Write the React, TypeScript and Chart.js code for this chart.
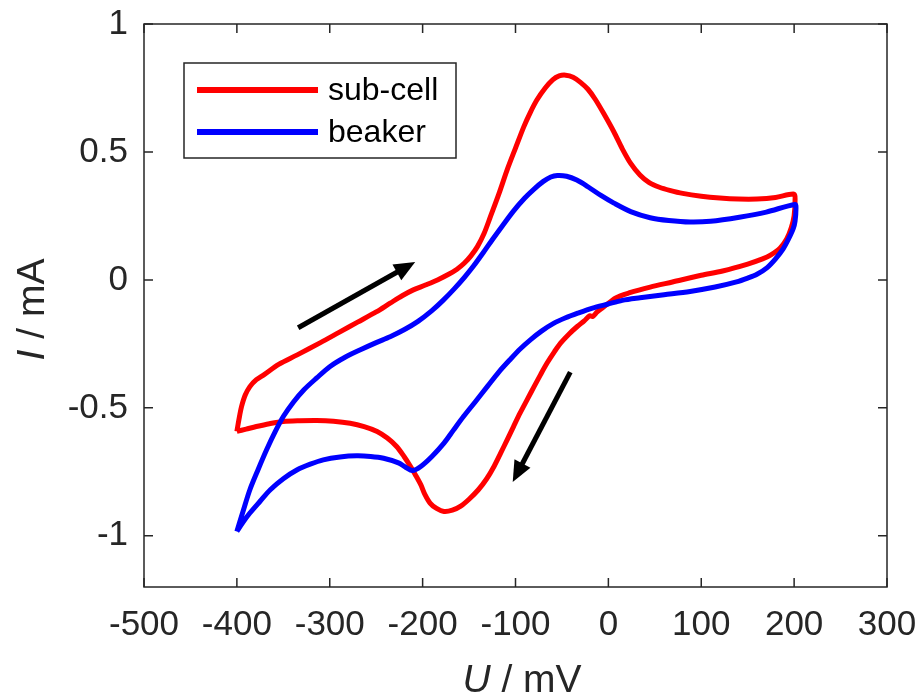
import React, { useEffect, useRef } from 'react';
import { Chart, registerables } from 'chart.js';

Chart.register(...registerables);

// ---- data ----
const subCellU = [
  -400, -397, -395, -391, -386, -379, -371, -355, -335, -310, -290, -270, -250, -235, -222, -210, -197, -184, -172, -163, -155, -148, -141, -134, -127, -118, -109, -100, -91, -84, -77, -68, -60, -53, -46, -38, -30, -22, -14, -5, 6, 15, 24, 34, 44, 55, 66, 80, 100, 120, 140, 160, 180, 200,
  201, 200, 197, 192, 185, 175, 166, 150, 123, 100, 69, 45, 23, 8, -6.5, -12, -17, -20, -26, -33.5, -42, -51.5, -58, -66, -73, -80, -87, -95, -102, -109, -116, -123, -131, -140, -150, -159, -168, -177, -185, -192, -198, -202, -208, -213, -220, -228, -238, -249, -263, -278, -296, -314, -332, -350, -365, -379, -390, -400,
];
const subCellI = [
  -0.592, -0.53, -0.495, -0.45, -0.417, -0.39, -0.371, -0.33, -0.293, -0.245, -0.205, -0.165, -0.125, -0.091, -0.062, -0.039, -0.02, 0.0, 0.022, 0.042, 0.066, 0.094, 0.13, 0.18, 0.247, 0.335, 0.43, 0.515, 0.599, 0.655, 0.703, 0.75, 0.782, 0.797, 0.8, 0.792, 0.772, 0.745, 0.705, 0.65, 0.578, 0.512, 0.455, 0.41, 0.38, 0.362, 0.35, 0.338, 0.327, 0.32, 0.316, 0.316, 0.322, 0.335,
  0.31, 0.25, 0.205, 0.16, 0.125, 0.098, 0.082, 0.062, 0.035, 0.018, -0.008, -0.028, -0.05, -0.07, -0.11, -0.125, -0.143, -0.14, -0.16, -0.182, -0.21, -0.247, -0.28, -0.325, -0.37, -0.417, -0.465, -0.52, -0.572, -0.625, -0.677, -0.728, -0.777, -0.82, -0.857, -0.884, -0.9, -0.905, -0.893, -0.872, -0.835, -0.8, -0.76, -0.729, -0.69, -0.651, -0.618, -0.592, -0.573, -0.56, -0.552, -0.549, -0.55, -0.553, -0.562, -0.573, -0.583, -0.592,
];

const beakerU = [
  -400, -393, -386, -377, -368, -359, -350, -339, -328, -314, -300, -284, -267, -250, -235, -220, -205, -190, -178, -166, -155, -145, -135, -125, -114, -102, -90, -80, -70, -62, -55, -45, -34, -22, -8, 6, 24, 45, 65, 88, 110, 141, 170, 201,
  202, 201, 199, 194, 188, 180, 171, 160, 150, 138, 115, 88, 60, 34, 15, -1, -17, -33, -46, -59, -72, -84, -95, -105, -118, -130, -143, -156, -167, -177, -190, -202, -211, -218, -226, -242, -256, -271, -289, -307, -321, -335, -350, -364, -375, -386, -394, -400,
];
const beakerI = [
  -0.983, -0.9, -0.82, -0.74, -0.664, -0.595, -0.534, -0.477, -0.43, -0.383, -0.339, -0.303, -0.273, -0.245, -0.222, -0.195, -0.162, -0.12, -0.08, -0.035, 0.01, 0.055, 0.105, 0.157, 0.212, 0.27, 0.32, 0.355, 0.385, 0.402, 0.408, 0.405, 0.39, 0.364, 0.33, 0.3, 0.267, 0.243, 0.232, 0.226, 0.229, 0.245, 0.265, 0.295,
  0.28, 0.23, 0.2, 0.16, 0.12, 0.082, 0.048, 0.022, 0.007, -0.008, -0.028, -0.045, -0.058, -0.07, -0.08, -0.095, -0.11, -0.13, -0.148, -0.17, -0.2, -0.234, -0.27, -0.308, -0.36, -0.415, -0.475, -0.534, -0.588, -0.638, -0.69, -0.729, -0.745, -0.733, -0.715, -0.697, -0.69, -0.6875, -0.692, -0.703, -0.72, -0.742, -0.777, -0.82, -0.865, -0.911, -0.95, -0.983,
];

const xTicks = [-500, -400, -300, -200, -100, 0, 100, 200, 300];
const yTicks = [-1, -0.5, 0, 0.5, 1];

const seriesNames = ['sub-cell', 'beaker'];
const seriesColors = ['#ff0000', '#0000ff'];

// scan-direction arrows (data coordinates)
const arrowTailU = [-334, -41];
const arrowTailI = [-0.187, -0.36];
const arrowTipU = [-208, -103];
const arrowTipI = [0.07, -0.79];

const AXIS_COLOR = '#262626';
const FONT = "'Liberation Sans', Arial, sans-serif";

const toPoints = (xs: number[], ys: number[]) => xs.map((x, i) => ({ x, y: ys[i] }));

const decorPlugin = {
  id: 'decor',
  afterDatasetsDraw(chart: any) {
    const { ctx, chartArea } = chart;
    const xs = chart.scales.x;
    const ys = chart.scales.y;
    const { left, right, top, bottom } = chartArea;
    ctx.save();

    // arrows
    ctx.fillStyle = '#000';
    ctx.strokeStyle = '#000';
    for (let i = 0; i < arrowTailU.length; i++) {
      const x0 = xs.getPixelForValue(arrowTailU[i]);
      const y0 = ys.getPixelForValue(arrowTailI[i]);
      const x1 = xs.getPixelForValue(arrowTipU[i]);
      const y1 = ys.getPixelForValue(arrowTipI[i]);
      const ang = Math.atan2(y1 - y0, x1 - x0);
      const headLen = 21;
      const headHalf = 9;
      const bx = x1 - headLen * Math.cos(ang);
      const by = y1 - headLen * Math.sin(ang);
      ctx.lineWidth = 5;
      ctx.lineCap = 'butt';
      ctx.beginPath();
      ctx.moveTo(x0, y0);
      ctx.lineTo(bx + 2 * Math.cos(ang), by + 2 * Math.sin(ang));
      ctx.stroke();
      ctx.beginPath();
      ctx.moveTo(x1, y1);
      ctx.lineTo(bx + headHalf * Math.sin(ang), by - headHalf * Math.cos(ang));
      ctx.lineTo(bx - headHalf * Math.sin(ang), by + headHalf * Math.cos(ang));
      ctx.closePath();
      ctx.fill();
    }

    // box
    ctx.strokeStyle = AXIS_COLOR;
    ctx.lineWidth = 1.5;
    ctx.strokeRect(left, top, right - left, bottom - top);

    // inward ticks on all sides
    const tl = 9;
    ctx.beginPath();
    xTicks.forEach((v) => {
      const px = xs.getPixelForValue(v);
      ctx.moveTo(px, bottom);
      ctx.lineTo(px, bottom - tl);
      ctx.moveTo(px, top);
      ctx.lineTo(px, top + tl);
    });
    yTicks.forEach((v) => {
      const py = ys.getPixelForValue(v);
      ctx.moveTo(left, py);
      ctx.lineTo(left + tl, py);
      ctx.moveTo(right, py);
      ctx.lineTo(right - tl, py);
    });
    ctx.stroke();

    // legend
    const lx = left + 40;
    const ly = top + 39;
    const lw = 272;
    const lh = 95;
    ctx.fillStyle = '#fff';
    ctx.fillRect(lx, ly, lw, lh);
    ctx.strokeStyle = AXIS_COLOR;
    ctx.lineWidth = 1.5;
    ctx.strokeRect(lx, ly, lw, lh);
    ctx.font = `32px ${FONT}`;
    ctx.textBaseline = 'middle';
    ctx.textAlign = 'left';
    seriesNames.forEach((name, i) => {
      const yy = ly + 27 + i * 42;
      ctx.strokeStyle = seriesColors[i];
      ctx.lineWidth = 6;
      ctx.beginPath();
      ctx.moveTo(lx + 13, yy);
      ctx.lineTo(lx + 134, yy);
      ctx.stroke();
      ctx.fillStyle = '#000';
      ctx.fillText(name, lx + 144, yy + 1);
    });

    // axis titles
    ctx.fillStyle = AXIS_COLOR;
    ctx.textBaseline = 'alphabetic';
    const TITLE_SIZE = 39;
    const drawMixed = (parts: { t: string; italic: boolean }[], cx: number, cy: number) => {
      const widths = parts.map((p) => {
        ctx.font = `${p.italic ? 'italic ' : ''}${TITLE_SIZE}px ${FONT}`;
        return ctx.measureText(p.t).width;
      });
      const total = widths.reduce((a, b) => a + b, 0);
      let x = cx - total / 2;
      parts.forEach((p, i) => {
        ctx.font = `${p.italic ? 'italic ' : ''}${TITLE_SIZE}px ${FONT}`;
        ctx.textAlign = 'left';
        ctx.fillText(p.t, x, cy);
        x += widths[i];
      });
    };
    drawMixed(
      [
        { t: 'U', italic: true },
        { t: ' / mV', italic: false },
      ],
      522,
      692
    );
    ctx.save();
    ctx.translate(44, (top + bottom) / 2 + 4);
    ctx.rotate(-Math.PI / 2);
    drawMixed(
      [
        { t: 'I', italic: true },
        { t: ' / mA', italic: false },
      ],
      0,
      0
    );
    ctx.restore();

    ctx.restore();
  },
};

export default function App() {
  const ref = useRef<HTMLCanvasElement>(null);
  useEffect(() => {
    if (!ref.current) return;
    Chart.defaults.font.family = FONT;
    const chart = new Chart(ref.current, {
      type: 'scatter',
      data: {
        datasets: [
          {
            label: seriesNames[0],
            data: toPoints(subCellU, subCellI),
            showLine: true,
            borderColor: seriesColors[0],
            backgroundColor: seriesColors[0],
            borderWidth: 5,
            pointRadius: 0,
            tension: 0.3,
            order: 2,
          },
          {
            label: seriesNames[1],
            data: toPoints(beakerU, beakerI),
            showLine: true,
            borderColor: seriesColors[1],
            backgroundColor: seriesColors[1],
            borderWidth: 5,
            pointRadius: 0,
            tension: 0.3,
            order: 1,
          },
        ],
      },
      options: {
        responsive: false,
        animation: false,
        events: [],
        layout: { padding: { left: 0, top: 24, right: 33, bottom: 0 } },
        plugins: { legend: { display: false }, tooltip: { enabled: false } },
        scales: {
          x: {
            type: 'linear',
            min: -500,
            max: 300,
            grid: { display: false, drawTicks: false },
            border: { display: false },
            afterBuildTicks: (s: any) => {
              s.ticks = xTicks.map((v) => ({ value: v }));
            },
            afterFit: (s: any) => {
              s.height = 107;
              s.paddingLeft = 0;
              s.paddingRight = 0;
            },
            ticks: {
              color: AXIS_COLOR,
              font: { size: 35, family: FONT },
              padding: 17,
              maxRotation: 0,
              autoSkip: false,
              callback: (v: any) => String(v),
            },
          },
          y: {
            type: 'linear',
            min: -1.2,
            max: 1,
            grid: { display: false, drawTicks: false },
            border: { display: false },
            afterBuildTicks: (s: any) => {
              s.ticks = yTicks.map((v) => ({ value: v }));
            },
            afterFit: (s: any) => {
              s.width = 144;
              s.paddingTop = 0;
              s.paddingBottom = 0;
            },
            ticks: {
              color: AXIS_COLOR,
              font: { size: 35, family: FONT },
              padding: 16,
              autoSkip: false,
              callback: (v: any) => String(v),
            },
          },
        },
      },
      plugins: [decorPlugin],
    } as any);
    return () => chart.destroy();
  }, []);
  return (
    <div style={{ position: 'absolute', left: 0, top: 0, width: 920, height: 694, background: '#fff' }}>
      <canvas ref={ref} width={920} height={694} style={{ display: 'block' }} />
    </div>
  );
}
